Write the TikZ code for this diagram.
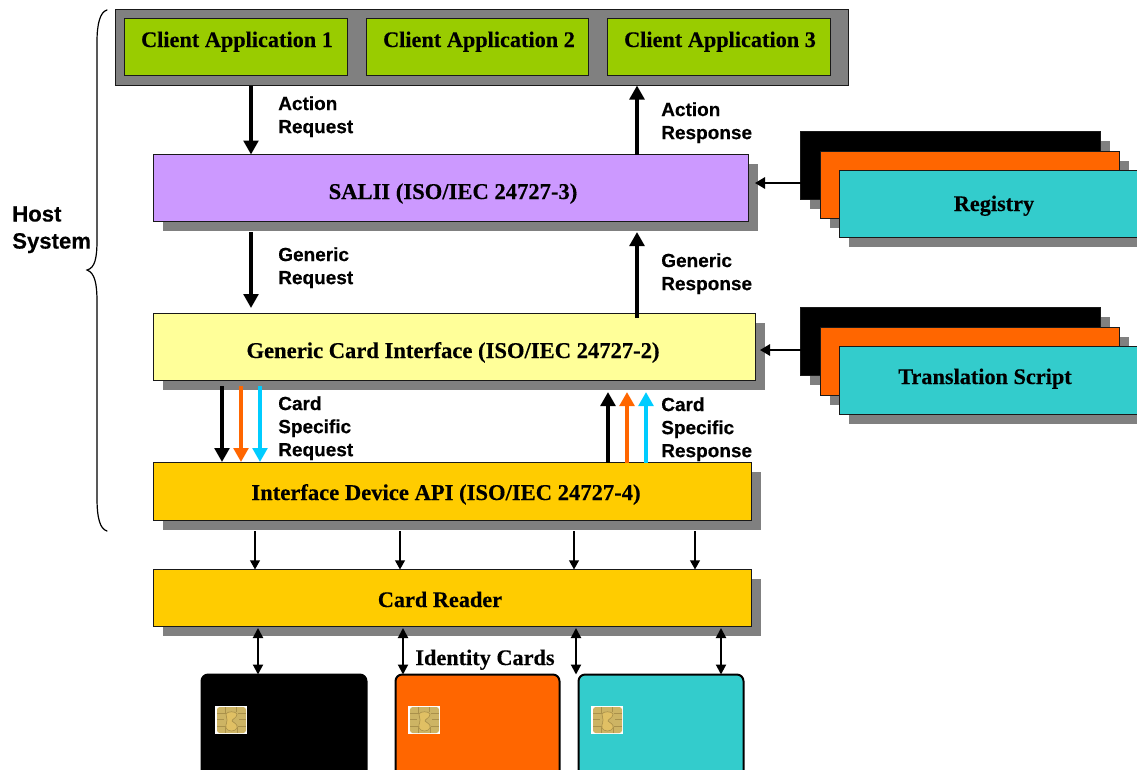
\documentclass[tikz,border=0pt]{standalone}
\usepackage{fontspec}
\setmainfont[BoldFeatures={FakeBold=0.3}]{Liberation Serif}
\newfontfamily\lblsans[BoldFeatures={FakeBold=0.4}]{Liberation Sans}
\usetikzlibrary{arrows.meta,shadows,calc}
\definecolor{appgreen}{RGB}{153,204,0}
\definecolor{salpurple}{RGB}{204,153,255}
\definecolor{gcyellow}{RGB}{255,255,153}
\definecolor{ifdgold}{RGB}{255,204,0}
\definecolor{stackorange}{RGB}{255,102,0}
\definecolor{stackteal}{RGB}{51,204,204}
\definecolor{reqblue}{RGB}{0,204,255}
\definecolor{shade}{RGB}{128,128,128}
\definecolor{chipgold}{RGB}{205,180,100}
\definecolor{chipline}{RGB}{170,145,75}
\definecolor{chiplight}{RGB}{224,192,100}
\tikzset{
  x=0.75pt,y=-0.75pt,
  boxbase/.style={draw=black!90,line width=0.85pt,inner sep=0pt,outer sep=0pt},
  shadowed/.style={drop shadow={shadow xshift=7.3pt,shadow yshift=-7.3pt,fill=shade,opacity=1}},
  serifbold/.style={font=\fontsize{16.7pt}{20pt}\selectfont\bfseries,anchor=base,inner sep=0pt},
  serifwide/.style={serifbold,font=\fontsize{16.95pt}{20pt}\selectfont\bfseries},
  sidelabel/.style={font=\lblsans\fontsize{14.25pt}{17.3pt}\selectfont\bfseries,align=left,anchor=north west,inner sep=0pt},
  hostlabel/.style={font=\lblsans\fontsize{16.6pt}{20.3pt}\selectfont\bfseries,align=left,anchor=north west,inner sep=0pt},
  bigarrow/.style={line width=3.7pt,-{Triangle[length=10.5pt,width=11pt]}},
  colourarrow/.style={bigarrow,line width=3.5pt},
  thinarrow/.style={line width=1.35pt,-{Triangle[length=6.8pt,width=7.2pt]}},
  bothways/.style={line width=1.5pt,{Triangle[length=7.5pt,width=7.5pt]}-{Triangle[length=7.5pt,width=7.5pt]}},
  sidearrow/.style={line width=1.4pt,-{Triangle[length=7.5pt,width=8.5pt]}},
}
% name, x1,y1,x2,y2, extra style
\newcommand{\boxat}[6]{%
  \pgfmathsetmacro{\bw}{(#4-#2)*0.75}%
  \pgfmathsetmacro{\bh}{(#5-#3)*0.75}%
  \node[boxbase,minimum width=\bw pt,minimum height=\bh pt,#6] (#1) at ({(#2+#4)/2-0.5},{(#3+#5)/2-0.5}) {};%
}
\newcommand{\chipat}[3]{%
  \begin{scope}[shift={(#2,#3)}]
    \node[fill=white,minimum width=24pt,minimum height=21pt,inner sep=0pt,outer sep=0pt,anchor=north west] (#1) at (0,0) {};
    \fill[chipgold,rounded corners=2pt] (2,1) rectangle (31,27);
    \draw[chipline,line width=0.65pt] (2,7)--(10,7) (2,13)--(9,13) (2,20)--(10,20) (23,7)--(31,7) (24,13)--(31,13) (23,20)--(31,20) (10,1)--(10,8) (21,1)--(21,6) (10,20)--(10,27) (22,21)--(22,27);
    \fill[chiplight,draw=chipline,line width=0.5pt] (11,8) .. controls (12,5) and (21,5) .. (22,8) .. controls (22,12) and (17,13) .. (17,15) .. controls (19,17) and (23,18) .. (22,22) .. controls (20,26) and (13,26) .. (11,22) .. controls (10,18) and (13,16) .. (12,14) -- cycle;
  \end{scope}%
}
\begin{document}
\begin{tikzpicture}
\useasboundingbox (0,0) rectangle (1137,769);
\clip (0,0) rectangle (1137,769);
% brace
\draw[line width=0.9pt,line cap=round] (107,10) .. controls (100,12) and (97,24) .. (97,42) -- (97,240) .. controls (97,258) and (95,268) .. (87,270) .. controls (95,273) and (97,284) .. (97,302) -- (97,498) .. controls (97,518) and (100,529) .. (107,531);
\node[hostlabel] (host) at (12,206) {Host\\System};
% top row
\boxat{apps}{116}{10}{849}{86}{fill=shade}
\boxat{appa}{125}{19}{348}{76}{fill=appgreen}
\boxat{appb}{367}{19}{589}{76}{fill=appgreen}
\boxat{appc}{608}{19}{831}{76}{fill=appgreen}
\node[serifbold] (appat) at (237,47) {Client Application 1};
\node[serifbold] (appbt) at (479,47) {Client Application 2};
\node[serifbold] (appct) at (720,47) {Client Application 3};
% main layers
\boxat{sal}{154}{155}{749}{222}{fill=salpurple,shadowed}
\boxat{gci}{154}{314}{756}{381}{fill=gcyellow,shadowed}
\boxat{ifd}{154}{463}{752}{521}{fill=ifdgold,shadowed}
\boxat{rdr}{154}{570}{752}{627}{fill=ifdgold,shadowed}
\node[serifwide] (salt) at (453,199) {SALII (ISO/IEC 24727-3)};
\node[serifwide] (gcit) at (453,358) {Generic Card Interface (ISO/IEC 24727-2)};
\node[serifwide] (ifdt) at (446,500) {Interface Device API (ISO/IEC 24727-4)};
\node[serifbold] (rdrt) at (440,607) {Card Reader};
% registry stack
\boxat{rega}{801}{132}{1101}{200}{fill=black,shadowed}
\boxat{regb}{821}{152}{1120}{219}{fill=stackorange,shadowed}
\boxat{regc}{840}{171}{1160}{238}{fill=stackteal,shadowed}
\node[serifbold] (regt) at (994,211) {Registry};
% translation stack
\boxat{tra}{801}{308}{1101}{376}{fill=black,shadowed}
\boxat{trb}{821}{328}{1120}{396}{fill=stackorange,shadowed}
\boxat{trc}{840}{347}{1160}{415}{fill=stackteal,shadowed}
\node[serifbold] (trt) at (985,384) {Translation Script};
% cards
\tikzset{cardbox/.style={draw,line width=1.5pt,rounded corners=5pt,inner sep=0pt,outer sep=0pt}}
\boxat{cardA}{202}{675}{367}{800}{cardbox,fill=black,draw=black}
\boxat{cardB}{396}{675}{560}{800}{cardbox,fill=stackorange,draw=black}
\boxat{cardC}{579}{675}{744}{800}{cardbox,fill=stackteal,draw=black}
\chipat{chipA}{215}{706}
\chipat{chipB}{408}{706}
\chipat{chipC}{591}{706}
\node[serifbold] (idc) at (485,665) {Identity Cards};
% x guides
\foreach \n/\xv in {xa/251,xb/637,xc/222,xd/241,xe/260,xf/608,xg/627,xh/646,xi/255,xj/400,xk/574,xl/695,xm/258,xn/403,xo/576,xp/721}
  \coordinate (\n) at (\xv,0);
\coordinate (saldrop) at (0,232);
\coordinate (gcidrop) at (0,386);
\coordinate (ifddrop) at (0,531);
\coordinate (rdrrise) at (0,628);
\coordinate (gcigap) at (0,308);
\coordinate (gcigapb) at (0,392);
\coordinate (ifdtop) at (0,462);
\coordinate (gcistart) at (0,318);
% thick arrows
\draw[bigarrow] (apps.south -| xa) -- (sal.north -| xa);
\draw[bigarrow] (sal.north -| xb) -- (apps.south -| xb);
\draw[bigarrow] (saldrop -| xa) -- (gcigap -| xa);
\draw[bigarrow] (gcistart -| xb) -- (saldrop -| xb);
\draw[bigarrow,black] (gcidrop -| xc) -- (ifdtop -| xc);
\draw[colourarrow,stackorange] (gcidrop -| xd) -- (ifdtop -| xd);
\draw[colourarrow,reqblue] (gcidrop -| xe) -- (ifdtop -| xe);
\draw[bigarrow,black] (ifd.north -| xf) -- (gcigapb -| xf);
\draw[colourarrow,stackorange] (ifd.north -| xg) -- (gcigapb -| xg);
\draw[colourarrow,reqblue] (ifd.north -| xh) -- (gcigapb -| xh);
% thin arrows
\foreach \g in {xi,xj,xk,xl}
  \draw[thinarrow] (ifddrop -| \g) -- (rdr.north -| \g);
\draw[bothways] (rdrrise -| xm) -- (cardA.north -| xm);
\draw[bothways] (rdrrise -| xn) -- (cardB.north -| xn);
\draw[bothways] (rdrrise -| xo) -- (cardC.north -| xo);
\draw[bothways] (rdrrise -| xp) -- (cardC.north -| xp);
\coordinate (regy) at (0,183);
\coordinate (try) at (0,350);
\coordinate (regend) at (755,0);
\coordinate (trend) at (760,0);
\draw[sidearrow] (rega.west |- regy) -- (regend |- regy);
\draw[sidearrow] (tra.west |- try) -- (trend |- try);
% side labels
\node[sidelabel] (la) at (278,96) {Action\\Request};
\node[sidelabel] (lb) at (661,102) {Action\\Response};
\node[sidelabel] (lc) at (278,247) {Generic\\Request};
\node[sidelabel] (ld) at (661,253) {Generic\\Response};
\node[sidelabel] (le) at (278,396) {Card\\Specific\\Request};
\node[sidelabel] (lf) at (661,397) {Card\\Specific\\Response};
\end{tikzpicture}
\end{document}
